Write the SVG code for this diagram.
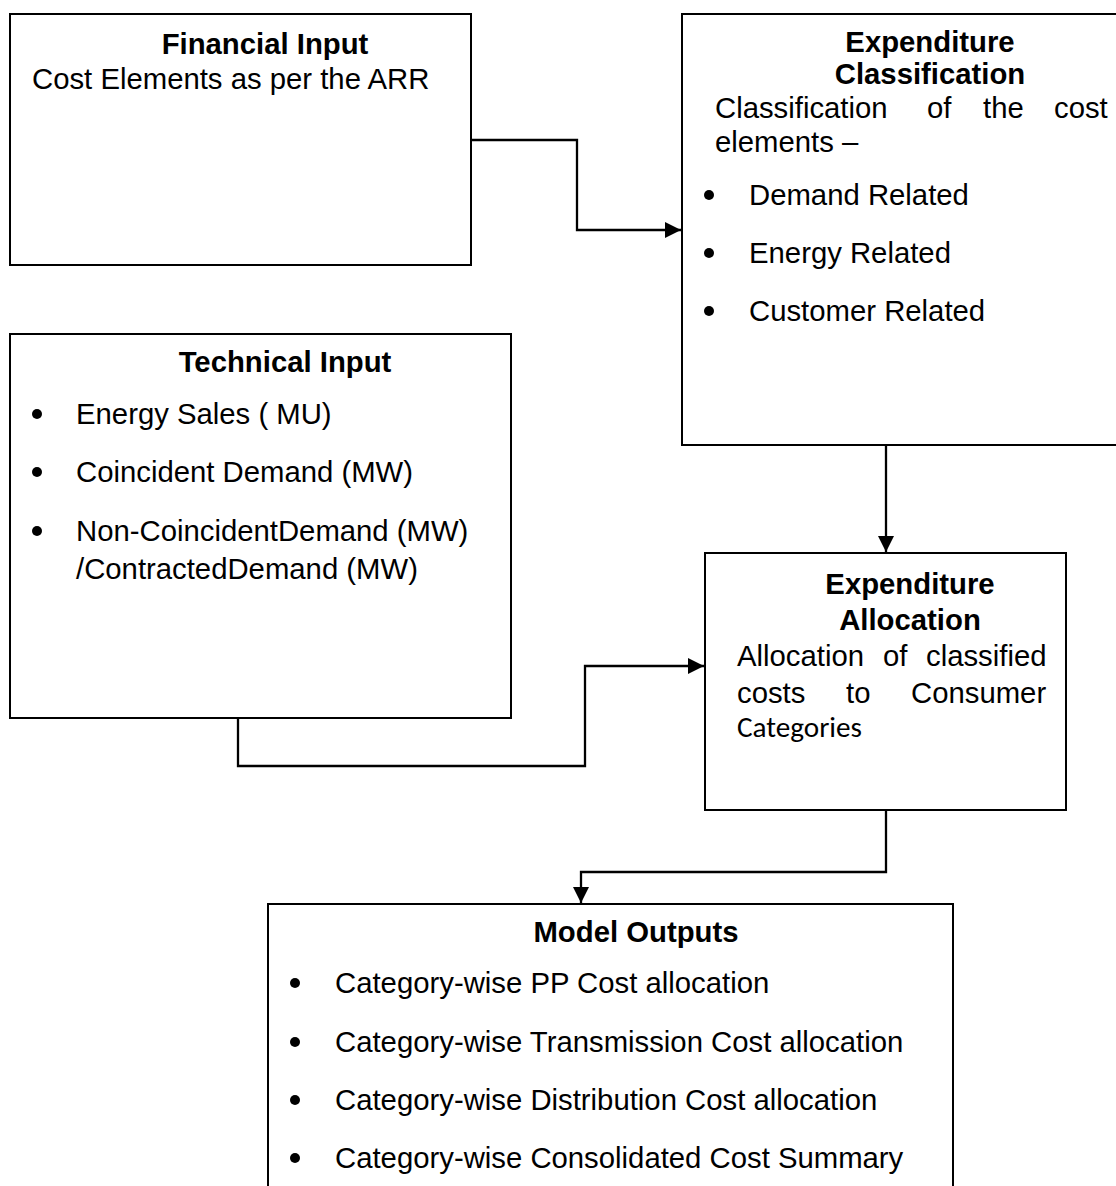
<svg xmlns="http://www.w3.org/2000/svg" width="1116" height="1186" viewBox="0 0 1116 1186">
<style>
.box{fill:#fff;stroke:#000;stroke-width:2}
.t{font-family:"Liberation Sans",Arial,sans-serif;font-size:29.3px;fill:#000}
.b{font-weight:bold}
.c{text-anchor:middle}
.cal{font-family:Carlito,Calibri,"Noto Sans",sans-serif;font-size:29px;fill:#000}
.con{fill:none;stroke:#000;stroke-width:2.3}
.dot{fill:#000}
</style>
<defs>
<marker id="arr" markerUnits="userSpaceOnUse" markerWidth="16" markerHeight="16" refX="16" refY="8" orient="auto">
<path d="M0,0 L16,8 L0,16 z" fill="#000"/>
</marker>
</defs>
<rect width="1116" height="1186" fill="#fff"/>

<g id="financial-input">
<rect class="box" x="10" y="14" width="461" height="251"/>
<text class="t b c" x="265" y="54">Financial Input</text>
<text class="t" x="32" y="89">Cost Elements as per the ARR</text>
</g>

<g id="expenditure-classification">
<rect class="box" x="682" y="14" width="450" height="431"/>
<text class="t b c" x="930" y="52">Expenditure</text>
<text class="t b c" x="930" y="84">Classification</text>
<text class="t" y="118"><tspan x="715">Classification</tspan><tspan x="927">of</tspan><tspan x="983">the</tspan><tspan x="1054">cost</tspan></text>
<text class="t" x="715" y="152">elements –</text>
<circle class="dot" cx="709" cy="195" r="5"/>
<text class="t" x="749" y="205">Demand Related</text>
<circle class="dot" cx="709" cy="253" r="5"/>
<text class="t" x="749" y="263">Energy Related</text>
<circle class="dot" cx="709" cy="311" r="5"/>
<text class="t" x="749" y="321">Customer Related</text>
</g>

<g id="technical-input">
<rect class="box" x="10" y="334" width="501" height="384"/>
<text class="t b c" x="285" y="372">Technical Input</text>
<circle class="dot" cx="37" cy="414" r="5"/>
<text class="t" x="76" y="424">Energy Sales ( MU)</text>
<circle class="dot" cx="37" cy="472" r="5"/>
<text class="t" x="76" y="482">Coincident Demand (MW)</text>
<circle class="dot" cx="37" cy="531" r="5"/>
<text class="t" x="76" y="541">Non-CoincidentDemand (MW)</text>
<text class="t" x="76" y="579">/ContractedDemand (MW)</text>
</g>

<g id="expenditure-allocation">
<rect class="box" x="705" y="553" width="361" height="257"/>
<text class="t b c" x="910" y="594">Expenditure</text>
<text class="t b c" x="910" y="630">Allocation</text>
<text class="t" y="666"><tspan x="737">Allocation</tspan><tspan x="883">of</tspan><tspan x="926">classified</tspan></text>
<text class="t" y="703"><tspan x="737">costs</tspan><tspan x="846">to</tspan><tspan x="911">Consumer</tspan></text>
<text class="cal" x="737" y="737" textLength="125" lengthAdjust="spacingAndGlyphs">Categories</text>
</g>

<g id="model-outputs">
<path class="box" d="M268,1192 V904 H953 V1192"/>
<text class="t b c" x="636" y="942">Model Outputs</text>
<circle class="dot" cx="295" cy="983" r="5"/>
<text class="t" x="335" y="993">Category-wise PP Cost allocation</text>
<circle class="dot" cx="295" cy="1042" r="5"/>
<text class="t" x="335" y="1052">Category-wise Transmission Cost allocation</text>
<circle class="dot" cx="295" cy="1100" r="5"/>
<text class="t" x="335" y="1110">Category-wise Distribution Cost allocation</text>
<circle class="dot" cx="295" cy="1158" r="5"/>
<text class="t" x="335" y="1168">Category-wise Consolidated Cost Summary</text>
</g>

<g id="connectors">
<path class="con" d="M471,140 H577 V230 H681" marker-end="url(#arr)"/>
<path class="con" d="M238,718 V766 H585 V666 H704" marker-end="url(#arr)"/>
<path class="con" d="M886,445 V552" marker-end="url(#arr)"/>
<path class="con" d="M886,810 V872 H581 V903" marker-end="url(#arr)"/>
</g>
</svg>
